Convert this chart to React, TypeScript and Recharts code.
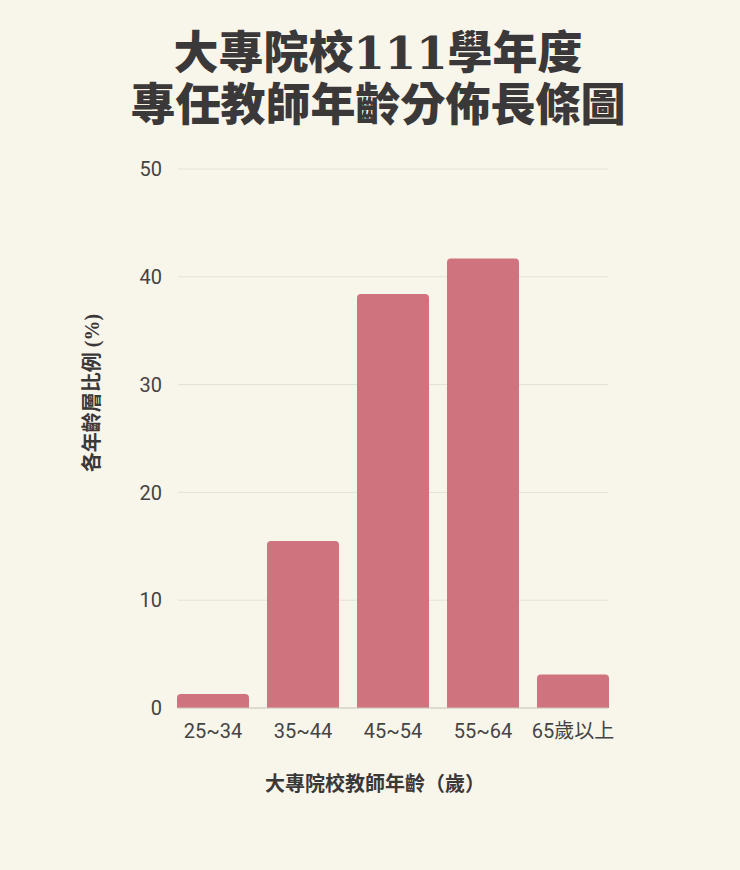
import { Bar, BarChart, CartesianGrid, XAxis, YAxis } from "recharts";

const AGE_GROUPS = ["25~34", "35~44", "45~54", "55~64", "65歲以上"];
const SHARE = [1.3, 15.5, 38.4, 41.7, 3.1];
const Y_TICKS = [0, 10, 20, 30, 40, 50];

const TITLE_LINES = ["大專院校111學年度", "專任教師年齡分佈長條圖"];
const X_TITLE = "大專院校教師年齡（歲）";
const Y_TITLE = "各年齡層比例 (%)";

const BG = "#f8f5eb";
const BAR = "#cf747e";
const TITLE_FONT = "'DejaVu Serif', 'Noto Sans CJK TC', serif";
const SERIF = "'Liberation Serif', 'Noto Sans CJK TC', serif";
const SANS = "Roboto, 'Noto Sans CJK TC', sans-serif";

export default function App() {
  const data = AGE_GROUPS.map((group, i) => ({ group, share: SHARE[i] }));

  return (
    <div
      style={{
        position: "relative",
        width: 740,
        height: 870,
        background: BG,
        overflow: "hidden",
      }}
    >
      <style>{"body{margin:0}"}</style>
      <div
        style={{
          position: "absolute",
          top: 28,
          left: 8,
          width: 740,
          textAlign: "center",
          fontFamily: TITLE_FONT,
          fontWeight: 900,
          fontSize: 45,
          lineHeight: "52px",
          color: "#3b3839",
        }}
      >
        {TITLE_LINES.map((line) => (
          <div key={line}>{line}</div>
        ))}
      </div>

      <BarChart
        width={740}
        height={870}
        data={data}
        margin={{ top: 169, right: 132, bottom: 122, left: 118 }}
      >
        <CartesianGrid vertical={false} stroke="#e5e1d7" />
        <XAxis
          dataKey="group"
          height={40}
          padding={{ left: -10, right: -10 }}
          axisLine={{ stroke: "#cfcac0" }}
          tickLine={false}
          tickMargin={10}
          tick={{ fill: "#444", fontSize: 20, fontFamily: SANS }}
          interval={0}
        />
        <YAxis
          width={60}
          domain={[0, 50]}
          ticks={Y_TICKS}
          axisLine={false}
          tickLine={false}
          tickMargin={10}
          tick={{ fill: "#444", fontSize: 20, fontFamily: SANS }}
        />
        <Bar
          dataKey="share"
          fill={BAR}
          barCategoryGap={10}
          radius={[4, 4, 0, 0]}
          isAnimationActive={false}
        />
      </BarChart>

      <div
        style={{
          position: "absolute",
          top: 770,
          left: 0,
          width: 750,
          textAlign: "center",
          fontFamily: SERIF,
          fontWeight: 700,
          fontSize: 20,
          lineHeight: "28px",
          color: "#3b3839",
        }}
      >
        {X_TITLE}
      </div>
      <div
        style={{
          position: "absolute",
          left: 92,
          top: 393,
          transform: "translate(-50%, -50%) rotate(-90deg)",
          whiteSpace: "nowrap",
          fontFamily: SERIF,
          fontWeight: 700,
          fontSize: 20,
          lineHeight: "24px",
          color: "#3b3839",
        }}
      >
        {Y_TITLE}
      </div>
    </div>
  );
}
